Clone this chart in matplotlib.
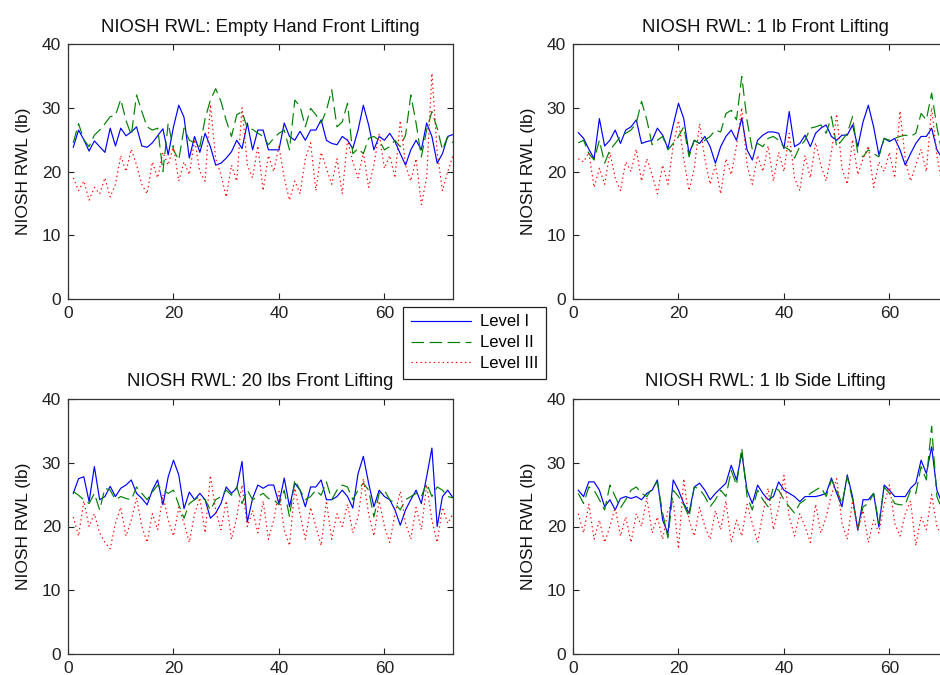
import matplotlib
matplotlib.use("Agg")
import matplotlib.pyplot as plt

plt.rcParams['font.family'] = ['Liberation Sans', 'DejaVu Sans']
plt.rcParams['lines.scale_dashes'] = False

# sample index 1..73 for every panel
n_pts = 73

titles = ['NIOSH RWL: Empty Hand Front Lifting', 'NIOSH RWL: 1 lb Front Lifting',
          'NIOSH RWL: 20 lbs Front Lifting', 'NIOSH RWL: 1 lb Side Lifting']
series_names = ['Level I', 'Level II', 'Level III']
y_label = 'NIOSH RWL (lb)'
x_ticks = [0, 20, 40, 60]
y_ticks = [0, 10, 20, 30, 40]

# Empty hand front lifting
empty_l1 = [23.8, 26.5, 25.0, 23.2, 24.8, 23.9, 23.0, 26.8, 24.0, 26.8, 25.6, 26.2, 27.0, 24.0, 23.8,
            24.5, 25.6, 26.7, 22.6, 27.0, 30.4, 28.5, 22.1, 25.5, 23.0, 26.0, 23.9, 21.0, 21.3, 22.1,
            23.1, 24.9, 23.6, 27.6, 23.4, 26.5, 26.5, 23.4, 23.4, 23.4, 27.6, 25.5, 24.9, 26.3, 24.9,
            26.5, 26.5, 28.1, 24.9, 24.4, 24.2, 25.5, 24.9, 23.6, 26.5, 30.4, 27.3, 23.4, 25.5, 24.9,
            26.0, 24.7, 22.8, 21.0, 23.4, 24.9, 23.4, 27.6, 25.5, 21.3, 22.8, 25.5, 25.8]
empty_l2 = [24.5, 27.5, 25.0, 23.9, 25.7, 26.5, 27.5, 28.6, 28.8, 31.3, 28.0, 25.7, 32.0, 29.4, 27.0,
            26.5, 26.8, 20.0, 27.6, 23.4, 21.8, 26.8, 24.9, 24.5, 23.9, 28.3, 31.2, 33.0, 31.0, 28.0,
            25.5, 28.9, 29.4, 26.8, 26.6, 26.0, 25.5, 24.2, 25.2, 26.0, 26.5, 23.4, 31.2, 30.2, 27.0,
            29.9, 28.9, 27.6, 29.6, 32.8, 27.0, 27.8, 30.7, 22.8, 23.6, 22.8, 25.2, 25.5, 24.9, 23.4,
            23.9, 24.9, 23.9, 25.7, 32.0, 27.6, 22.3, 26.5, 29.4, 26.8, 23.4, 25.5, 24.5]
empty_l3 = [19.0, 17.0, 18.5, 15.5, 17.5, 16.5, 19.0, 16.0, 18.0, 22.5, 20.0, 23.5, 21.0, 18.0, 16.5,
            21.5, 19.0, 23.0, 21.0, 24.0, 18.5, 21.5, 19.5, 25.0, 20.0, 18.5, 30.5, 22.0, 19.5, 16.0,
            21.0, 18.5, 30.0, 21.0, 19.0, 24.0, 17.0, 22.5, 20.0, 24.0, 19.0, 15.5, 18.5, 16.5, 22.0,
            24.5, 17.0, 23.0, 20.5, 18.0, 22.0, 16.5, 25.0, 21.5, 19.0, 23.0, 17.5, 21.0, 26.0, 20.5,
            22.5, 19.0, 28.0, 21.0, 18.5, 22.0, 14.8, 19.0, 35.4, 23.0, 17.0, 20.0, 22.5]

# 1 lb front lifting
front1_l1 = [26.1, 25.2, 23.5, 22.0, 28.3, 24.0, 24.9, 26.5, 24.4, 26.5, 27.0, 28.1, 24.4, 24.7, 24.9,
             26.8, 25.7, 23.6, 27.3, 30.7, 28.3, 22.8, 24.9, 24.4, 25.5, 23.9, 21.3, 23.9, 25.5, 26.5,
             24.9, 28.4, 23.4, 21.8, 24.9, 25.7, 26.2, 26.2, 26.0, 23.6, 29.4, 23.9, 24.4, 25.7, 23.9,
             26.0, 26.8, 27.3, 25.5, 24.9, 25.7, 25.7, 27.3, 23.9, 27.8, 30.4, 27.0, 22.6, 25.2, 24.7,
             25.2, 23.4, 21.0, 22.8, 24.4, 25.5, 25.5, 26.8, 23.4, 22.1, 24.0, 22.0, 23.0]
front1_l2 = [24.5, 24.9, 22.8, 21.8, 24.9, 21.3, 23.4, 24.4, 25.5, 26.0, 26.5, 27.6, 31.0, 28.1, 24.2,
             24.9, 25.5, 23.4, 24.4, 25.5, 27.0, 22.3, 24.9, 24.4, 24.9, 25.5, 26.5, 26.2, 29.1, 29.6,
             28.1, 34.9, 28.0, 23.4, 24.4, 23.9, 25.2, 25.5, 24.9, 23.9, 23.4, 22.1, 23.9, 24.9, 26.8,
             27.0, 27.3, 26.0, 28.6, 23.9, 24.9, 26.0, 28.6, 22.8, 22.3, 23.4, 22.8, 22.3, 25.2, 24.9,
             25.2, 25.5, 25.7, 25.5, 26.0, 29.1, 28.1, 32.3, 27.0, 22.8, 24.5, 23.5, 24.0]
front1_l3 = [22.0, 21.5, 23.0, 17.5, 20.5, 18.0, 23.0, 19.0, 17.0, 21.5, 20.0, 23.5, 18.5, 22.0, 19.5,
             16.5, 21.0, 18.0, 24.0, 28.0, 22.0, 17.0, 20.5, 27.5, 22.0, 18.0, 21.0, 16.5, 22.0, 19.5,
             24.0, 30.0, 21.0, 18.0, 22.5, 20.0, 24.0, 18.5, 23.0, 20.0, 26.0, 19.0, 17.0, 22.5, 19.0,
             24.5, 21.0, 18.5, 23.0, 29.0, 20.5, 18.0, 25.0, 19.5, 22.0, 24.0, 17.5, 21.5, 20.0, 23.0,
             19.0, 29.5, 22.0, 18.5, 21.0, 23.5, 20.0, 30.0, 22.5, 18.0, 24.0, 20.0, 22.0]

# 20 lbs front lifting
front20_l1 = [25.2, 27.5, 27.8, 23.9, 29.4, 24.2, 24.7, 26.3, 24.7, 26.0, 26.5, 27.3, 25.2, 24.4, 23.4,
              25.7, 27.3, 23.4, 27.8, 30.4, 28.1, 22.8, 25.4, 24.2, 25.2, 24.2, 21.3, 22.1, 23.6, 26.2,
              25.2, 26.0, 30.2, 20.7, 24.4, 26.5, 26.0, 26.5, 26.5, 23.6, 27.6, 23.1, 26.8, 25.7, 23.1,
              26.2, 26.2, 27.3, 24.2, 24.2, 24.7, 25.7, 24.7, 22.9, 28.3, 31.0, 26.8, 23.1, 25.7, 24.7,
              24.2, 22.6, 20.2, 22.6, 24.2, 25.7, 23.6, 27.8, 32.3, 20.0, 24.7, 25.7, 24.5]
front20_l2 = [25.5, 24.9, 24.2, 23.6, 25.2, 22.6, 26.0, 25.7, 24.2, 24.7, 24.4, 24.2, 26.2, 25.2, 24.2,
              25.4, 26.5, 25.7, 25.2, 25.7, 23.4, 21.3, 23.6, 24.2, 24.7, 24.2, 22.6, 24.2, 24.7, 25.7,
              24.9, 26.2, 23.6, 25.7, 24.2, 24.7, 25.2, 24.4, 24.2, 23.4, 25.7, 21.5, 27.3, 25.7, 24.2,
              24.7, 25.7, 24.9, 27.0, 24.2, 25.7, 26.5, 26.2, 24.2, 25.7, 26.8, 25.7, 21.5, 25.2, 25.7,
              24.2, 23.6, 22.6, 24.2, 24.7, 25.2, 24.7, 26.8, 24.7, 26.2, 25.7, 24.7, 24.5]
front20_l3 = [21.5, 18.5, 24.0, 20.0, 22.0, 19.0, 17.5, 16.5, 20.5, 23.0, 18.5, 21.0, 24.5, 20.0, 17.5,
              22.0, 19.5, 25.0, 21.0, 18.5, 23.0, 20.5, 17.5, 22.0, 24.5, 19.0, 28.0, 22.5, 19.5, 24.0,
              18.0, 21.5, 26.5, 20.0, 22.5, 19.0, 24.0, 18.0, 21.0, 25.5, 19.5, 17.0, 26.0, 22.0, 18.0,
              23.0, 20.0, 17.0, 24.0, 18.0, 22.0, 20.0, 23.5, 19.0, 21.5, 27.5, 22.0, 18.5, 24.0, 20.0,
              17.5, 22.0, 25.5, 20.5, 18.0, 23.0, 19.5, 26.5, 21.0, 17.5, 23.0, 20.5, 22.0]

# 1 lb side lifting
side1_l1 = [25.7, 24.7, 27.0, 27.0, 25.7, 23.1, 24.2, 22.6, 24.4, 24.7, 24.4, 24.7, 24.2, 25.2, 25.7,
            27.3, 21.0, 18.9, 27.3, 25.7, 23.6, 22.1, 26.2, 26.8, 25.7, 24.2, 25.2, 26.0, 26.8, 29.6,
            27.3, 31.5, 25.7, 23.6, 26.5, 25.2, 24.2, 24.7, 27.0, 25.7, 25.2, 24.7, 23.9, 24.7, 24.7,
            24.7, 24.9, 25.2, 27.6, 25.2, 23.1, 28.1, 24.7, 19.4, 24.2, 24.2, 25.2, 19.9, 26.5, 25.7,
            24.7, 24.7, 24.7, 26.0, 26.8, 30.4, 28.3, 32.5, 25.7, 23.6, 22.5, 24.0, 23.0]
side1_l2 = [25.2, 23.6, 26.2, 25.7, 24.2, 22.6, 26.5, 24.7, 22.9, 24.2, 25.7, 26.2, 25.2, 24.7, 26.0,
            27.0, 22.1, 18.2, 25.7, 24.7, 23.4, 21.5, 26.2, 25.9, 24.7, 23.1, 24.2, 25.7, 24.7, 28.8,
            26.5, 32.3, 24.7, 22.6, 25.7, 24.2, 23.1, 26.2, 25.7, 24.2, 23.1, 22.1, 23.6, 24.2, 25.2,
            25.7, 26.2, 24.7, 27.3, 25.7, 23.6, 27.8, 24.2, 19.7, 23.1, 23.6, 25.2, 20.5, 26.2, 25.2,
            23.6, 23.4, 23.4, 25.7, 25.2, 29.4, 27.3, 35.7, 24.7, 22.6, 21.5, 23.5, 22.5]
side1_l3 = [22.0, 19.0, 23.5, 18.0, 21.0, 17.5, 20.0, 23.0, 18.5, 21.5, 17.5, 22.0, 20.0, 24.5, 19.0,
            21.5, 18.0, 22.5, 24.0, 16.5, 27.5, 21.0, 18.5, 23.0, 20.0, 18.0, 22.5, 19.5, 24.0, 17.5,
            21.0, 18.5, 23.5, 20.5, 17.5, 22.0, 26.0, 19.5, 23.0, 28.0, 21.5, 18.5, 22.0, 20.0, 17.5,
            23.5, 19.0, 21.5, 25.0, 27.5, 20.5, 18.0, 24.0, 19.5, 22.5, 17.5, 21.0, 19.0, 23.5, 26.5,
            20.5, 18.5, 22.0, 24.0, 17.0, 21.5, 19.5, 25.0, 20.0, 18.5, 22.5, 20.0, 21.0]

panel_data = [
    (empty_l1, empty_l2, empty_l3),
    (front1_l1, front1_l2, front1_l3),
    (front20_l1, front20_l2, front20_l3),
    (side1_l1, side1_l2, side1_l3),
]

W, H = 940, 675
fig = plt.figure(figsize=(W / 100, H / 100), dpi=100)

# axes boxes in pixels: left, top, width, height (right column runs off the image)
boxes = [(68, 44, 385, 255), (573, 44, 385, 255),
         (68, 399, 385, 255), (573, 399, 385, 255)]

styles = [dict(color='#0000ff', linestyle='-'),
          dict(color='#008000', dashes=(9, 4)),
          dict(color='#ff0000', dashes=(1, 2.2))]

fs = 12.5
x = list(range(1, n_pts + 1))
lines = []
for (l, t, w, h), title, data in zip(boxes, titles, panel_data):
    ax = fig.add_axes([l / W, 1 - (t + h) / H, w / W, h / H])
    lines = []
    for vals, st, name in zip(data, styles, series_names):
        ln, = ax.plot(x, vals, linewidth=0.85, label=name, **st)
        lines.append(ln)
    ax.set_xlim(0, 73)
    ax.set_ylim(0, 40)
    ax.set_xticks(x_ticks)
    ax.set_yticks(y_ticks)
    ax.tick_params(direction='in', length=4, width=0.8, top=True, right=True,
                   labelsize=fs, colors='#222222', pad=5)
    for sp in ax.spines.values():
        sp.set_color('#333333')
        sp.set_linewidth(0.9)
    ax.set_title(title, fontsize=13.3, pad=9, color='#111111')
    ax.set_ylabel(y_label, fontsize=fs, labelpad=8, color='#111111')

leg = fig.legend(lines, series_names, loc='upper left',
                 bbox_to_anchor=(403 / W, 1 - 307 / H), fontsize=12,
                 frameon=True, fancybox=False, framealpha=1, edgecolor='#222222',
                 handlelength=3.6, handletextpad=0.6, labelspacing=0.35,
                 borderpad=0.45, borderaxespad=0)
leg.get_frame().set_linewidth(0.9)

fig.savefig('out.png', dpi=100)
